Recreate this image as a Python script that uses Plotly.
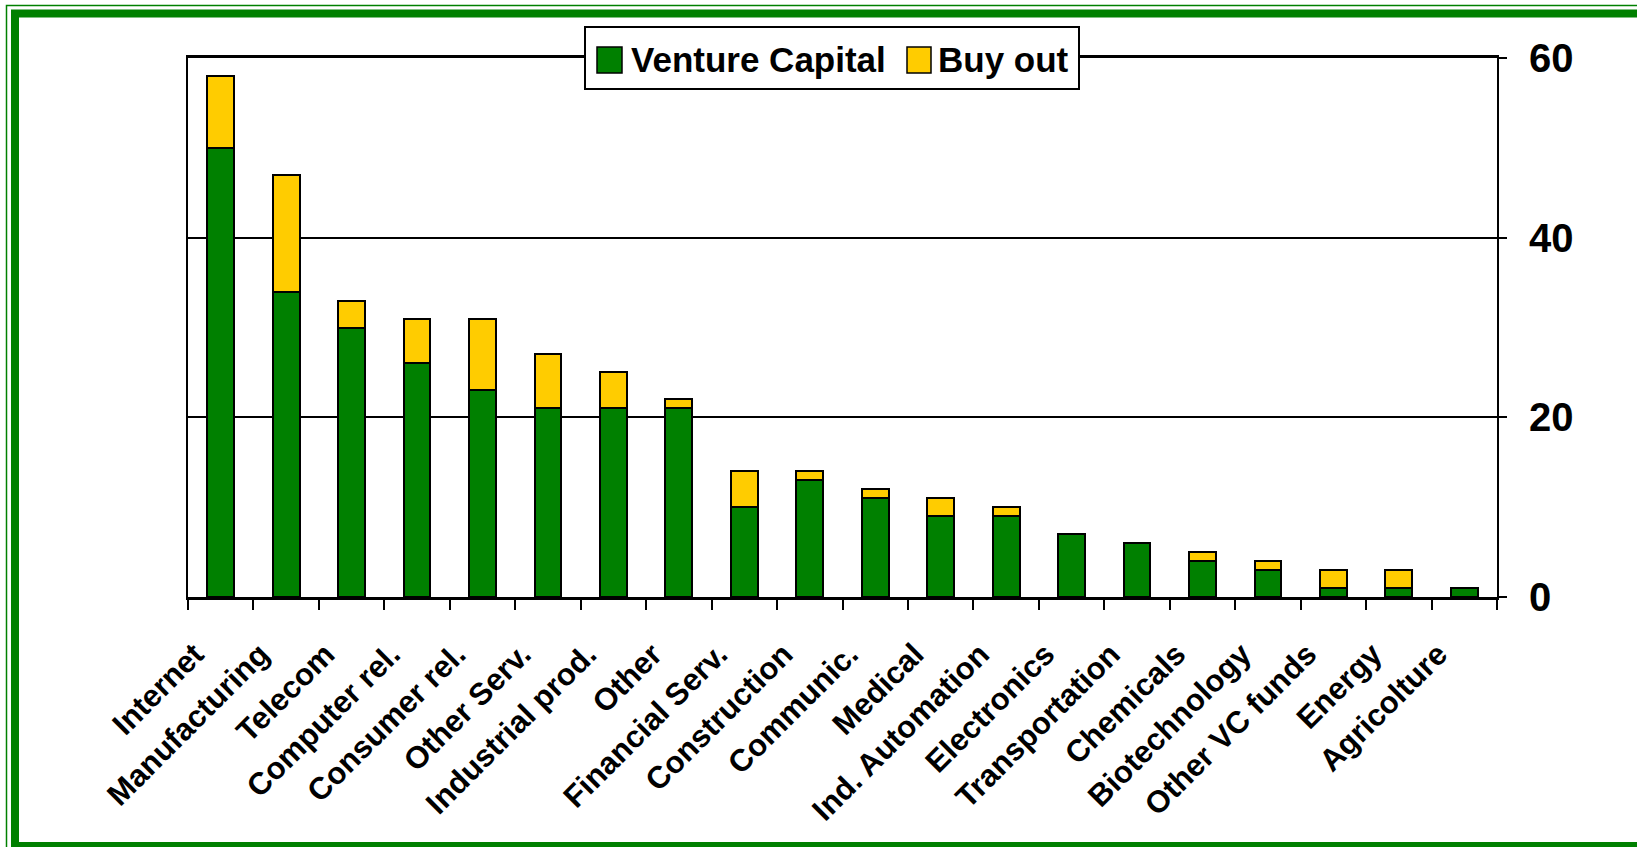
import plotly.graph_objects as go

# investments by sector, number of deals
sectors = [
    'Internet', 'Manufacturing', 'Telecom', 'Computer rel.', 'Consumer rel.',
    'Other Serv.', 'Industrial prod.', 'Other', 'Financial Serv.', 'Construction',
    'Communic.', 'Medical', 'Ind. Automation', 'Electronics', 'Transportation',
    'Chemicals', 'Biotechnology', 'Other VC funds', 'Energy', 'Agricolture',
]
venture_capital = [50, 34, 30, 26, 23, 21, 21, 21, 10, 13, 11, 9, 9, 7, 6, 4, 3, 1, 1, 1]
buy_out = [8, 13, 3, 5, 8, 6, 4, 1, 4, 1, 1, 2, 1, 0, 0, 1, 1, 2, 2, 0]
series_names = ['Venture Capital', 'Buy out']
series_colors = ['#008000', '#FFCC00']
y_ticks = [0, 20, 40, 60]

FONT = 'Liberation Sans, Arial, sans-serif'
WIDTH, HEIGHT = 1637, 847
LEFT, RIGHT, TOP, BOTTOM = 188, 1497, 58, 597


def px_x(x):
    return (x - LEFT) / (RIGHT - LEFT)


def px_y(y):
    return (BOTTOM - y) / (BOTTOM - TOP)


fig = go.Figure()
for name, color, values in zip(series_names, series_colors, [venture_capital, buy_out]):
    fig.add_trace(go.Bar(
        x=sectors,
        y=values,
        name=name,
        marker=dict(color=color, line=dict(color='black', width=2)),
        showlegend=False,
    ))

shapes = []
# green frame around the chart
shapes.append(dict(type='rect', xref='paper', yref='paper',
                   x0=px_x(6.5), y0=px_y(5.5), x1=px_x(1660), y1=px_y(870),
                   line=dict(color='#008000', width=1.5), layer='below'))
shapes.append(dict(type='rect', xref='paper', yref='paper',
                   x0=px_x(15), y0=px_y(13.5), x1=px_x(1645), y1=px_y(846),
                   line=dict(color='#008000', width=8), layer='below'))

# legend box drawn by hand to get the big square keys
shapes.append(dict(type='rect', xref='paper', yref='paper',
                   x0=px_x(585), y0=px_y(27), x1=px_x(1079), y1=px_y(89),
                   line=dict(color='black', width=2), fillcolor='white', layer='above'))
key_x = [(597, 622), (907, 931)]
text_x = [629, 936]
annotations = []
for (x0, x1), tx, name, color in zip(key_x, text_x, series_names, series_colors):
    shapes.append(dict(type='rect', xref='paper', yref='paper',
                       x0=px_x(x0), y0=px_y(47), x1=px_x(x1), y1=px_y(73),
                       line=dict(color='black', width=1.5), fillcolor=color, layer='above'))
    annotations.append(dict(xref='paper', yref='paper', x=px_x(tx), y=px_y(60),
                            xanchor='left', yanchor='middle', showarrow=False, text=name,
                            font=dict(family=FONT, size=35, color='black', weight='bold')))

fig.update_layout(
    width=WIDTH,
    height=HEIGHT,
    margin=dict(l=LEFT, r=WIDTH - RIGHT, t=TOP, b=HEIGHT - BOTTOM, autoexpand=False),
    paper_bgcolor='white',
    plot_bgcolor='white',
    barmode='stack',
    bargap=0.59,
    font=dict(family=FONT, color='black'),
    shapes=shapes,
    annotations=annotations,
)

fig.update_xaxes(
    type='category',
    tickangle=-45,
    tickfont=dict(family=FONT, size=31, weight='bold'),
    ticks='outside',
    tickson='boundaries',
    ticklen=10,
    tickwidth=2,
    tickcolor='black',
    ticklabelstandoff=24,
    ticklabelshift=-26,
    showline=True,
    linecolor='black',
    linewidth=2.5,
    mirror=True,
    showgrid=False,
    automargin=False,
)

fig.update_yaxes(
    side='right',
    range=[0, 60],
    tickvals=y_ticks,
    tickfont=dict(family=FONT, size=40, weight='bold'),
    ticks='outside',
    ticklen=8,
    tickwidth=2,
    tickcolor='black',
    ticklabelstandoff=14,
    showline=True,
    linecolor='black',
    linewidth=2,
    mirror=True,
    showgrid=True,
    gridcolor='black',
    gridwidth=1.5,
    zeroline=False,
    automargin=False,
)

# the page has no body margin so the figure sits at the window's corner
fig.write_html('out.html', config={'displayModeBar': False},
               post_script="document.body.style.margin = '0';")
